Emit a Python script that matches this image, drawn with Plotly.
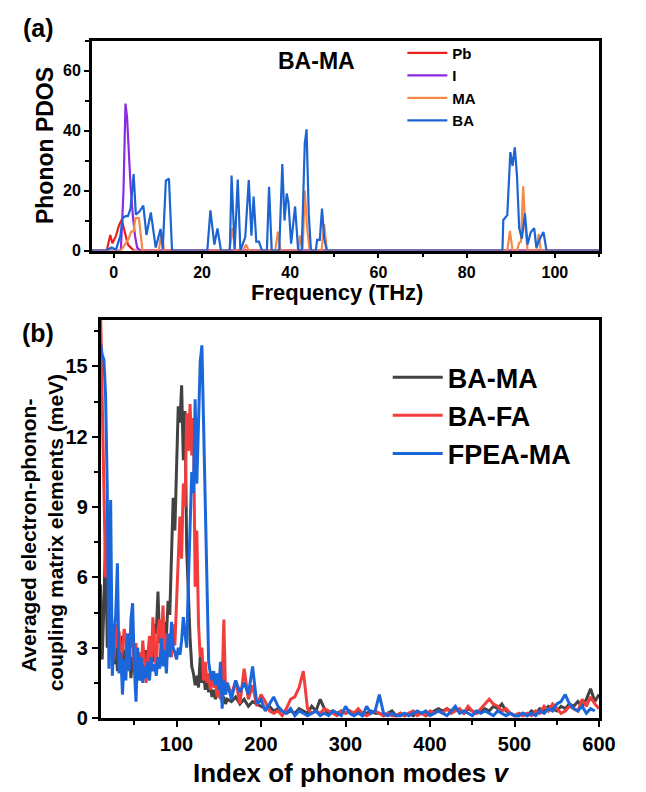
import plotly.graph_objects as go

W, H = 646, 792

# ---------------- panel (a): phonon PDOS of BA-MA ----------------
pb_x = [-5, -1.6, -0.8, -0.3, 0.5, 1.2, 1.8, 2.5, 3.2, 4.5, 110]
pb_y = [0, 0, 5.2, 2.4, 5.0, 8.5, 10.3, 6.0, 2.0, 0, 0]

i_x = [-5, 1.6, 2.2, 2.65, 3.0, 3.5, 3.8, 4.3, 4.8, 5.3, 6.0, 110]
i_y = [0, 0, 20, 49, 44.6, 30, 21.6, 12, 5, 1, 0, 0]

ma_x = [-5, 1.6, 2.5, 3.4, 3.9, 4.5, 4.9, 5.7, 6.5, 10.2, 10.8, 11.4,
        26.2, 26.9, 27.5, 29.3, 30.0, 30.6, 36.6, 37.2, 37.8, 41.8, 42.2,
        42.8, 43.3, 43.8, 44.4, 47.1, 47.7, 48.3, 89.2, 89.8, 90.4, 91.4,
        91.9, 92.3, 92.8, 93.3, 93.8, 95.8, 96.3, 96.8, 110]
ma_y = [0, 0, 2.0, 4.0, 6.2, 6.5, 10.8, 10.8, 0, 0, 5.9, 0,
        0, 7.5, 0, 0, 2.0, 0, 0, 6.3, 0, 0, 5.0,
        0, 20.0, 8.0, 0, 0, 8.8, 0, 0, 6.6, 0, 0,
        2.6, 3.0, 21.4, 8.0, 0, 0, 5.6, 0, 0]

ba_x = [-5, -1.8, -0.5, 0.5, 1.5, 2.0, 2.65, 3.2, 3.8, 4.5, 5.0, 5.8, 6.7,
        7.4, 8.4, 9.5, 10.6, 11.1, 11.8, 12.5, 13.2, 21.2, 21.9, 22.8,
        23.5, 24.3, 26.3, 26.7, 27.4, 28.1, 28.7, 29.8, 30.6, 31.2, 31.7,
        32.3, 32.9, 33.6, 34.7, 35.2, 35.8, 37.5, 38.2, 38.7, 39.2, 39.6,
        40.2, 41.1, 41.8, 42.6, 43.3, 43.7, 44.2, 44.7, 45.8, 46.1, 46.7,
        47.2, 47.7, 48.3, 88.1, 88.3, 89.2, 89.9, 90.4, 90.9, 91.4, 91.9,
        92.5, 93.2, 93.8, 94.5, 95.3, 95.8, 96.6, 97.4, 98.1, 110]
ba_y = [0, 0, 1.0, 0.3, 5.0, 10.8, 11.5, 11.5, 14.0, 25.5, 12.0, 13.0, 15.0,
        5.2, 12.7, 1.0, 7.2, 0.5, 23.3, 24.0, 0, 0, 13.4, 2.0,
        7.4, 0, 0, 25.0, 0.5, 23.7, 0, 4.5, 23.5, 5.0, 18.0,
        3.0, 3.0, 0, 0, 21.3, 0, 0, 28.8, 10.0, 19.0, 16.0,
        2.3, 14.7, 0, 0, 35.8, 40.4, 12.0, 0, 0, 3.6, 3.6,
        14.0, 4.0, 0, 0, 10.2, 11.8, 32.8, 28.2, 34.4, 25.0, 7.5,
        4.0, 12.4, 2.0, 6.0, 7.5, 1.0, 4.0, 6.2, 0, 0]

# ---------------- panel (b): averaged e-ph coupling ----------------
mode_idx = list(range(10, 161, 2)) + list(range(165, 601, 5))

ba_ma = [5.7, 2.5, 4.8, 7.7, 3.0, 4.6, 2.8, 4.0, 2.3, 3.6, 2.0, 3.1, 2.5,
         3.5, 1.8, 2.9, 2.2, 3.3, 1.7, 2.6, 2.0, 3.0, 1.9, 2.4, 1.6, 2.7,
         2.1, 2.9, 1.8, 2.5, 3.2, 2.4, 4.0, 3.6, 5.4, 3.2, 3.9, 2.8, 4.1,
         3.5, 5.0, 4.4, 6.6, 9.4, 8.0, 11.3, 13.3, 12.6, 14.2, 11.0, 13.1,
         7.2, 5.0, 3.4, 2.2, 1.9, 1.4, 1.8, 1.3, 2.6, 1.5, 1.9, 1.2, 1.7,
         1.1, 1.4, 0.9, 1.2, 0.8, 1.1, 0.9, 1.2, 0.7, 0.9, 0.6, 0.8,
         0.7, 0.9, 0.6, 0.8, 0.5, 0.7, 0.6, 0.5, 0.4, 0.5, 0.3, 0.4, 0.3,
         0.2, 0.3, 0.2, 0.4, 0.3, 0.2, 0.5, 0.3, 0.8, 0.4, 0.2, 0.3, 0.2,
         0.3, 0.2, 0.3, 0.2, 0.3, 0.1, 0.2, 0.3, 0.2, 0.2, 0.1, 0.2, 0.3,
         0.1, 0.2, 0.1, 0.2, 0.1, 0.2, 0.2, 0.1, 0.2, 0.3, 0.4, 0.3, 0.4,
         0.3, 0.4, 0.3, 0.2, 0.4, 0.3, 0.2, 0.3, 0.4, 0.3, 0.5, 0.4, 0.6,
         0.3, 0.2, 0.1, 0.1, 0.2, 0.1, 0.3, 0.2, 0.4, 0.3, 0.5, 0.4, 0.3,
         0.5, 0.4, 0.6, 0.5, 0.7, 0.5, 0.8, 1.25, 0.7, 1.0]

ba_fa = [17.5, 14.0, 9.0, 6.0, 8.4, 4.5, 3.2, 3.9, 2.5, 4.0, 3.0, 3.7, 2.4,
         2.9, 3.8, 3.4, 2.2, 3.6, 3.0, 3.5, 2.0, 3.2, 1.6, 2.8, 1.9, 3.3,
         2.4, 1.5, 2.7, 3.5, 2.2, 4.3, 3.0, 2.0, 3.8, 4.2, 3.1, 4.8, 2.3,
         3.6, 2.9, 3.4, 2.6, 4.0, 3.1, 5.0, 6.1, 8.6, 6.8, 10.0, 9.0, 13.0,
         11.4, 13.4, 11.2, 12.8, 5.6, 8.0, 4.0, 2.6, 3.0, 1.6, 2.4, 1.5,
         1.9, 1.2, 2.0, 1.3, 1.6, 0.9, 1.2, 0.8, 1.5, 4.2, 1.0, 1.5,
         1.0, 1.6, 0.6, 2.1, 0.8, 1.4, 0.5, 1.0, 0.7, 0.3, 0.2, 0.3, 0.1,
         0.4, 0.8, 0.9, 1.3, 2.0, 0.4, 0.2, 0.3, 0.2, 0.4, 0.3, 0.2, 0.1,
         0.3, 0.2, 0.3, 0.2, 0.4, 0.2, 0.1, 0.2, 0.3, 0.2, 0.1, 0.2, 0.1,
         0.1, 0.2, 0.1, 0.2, 0.3, 0.1, 0.2, 0.1, 0.3, 0.2, 0.3, 0.2, 0.4,
         0.2, 0.3, 0.4, 0.2, 0.5, 0.3, 0.2, 0.4, 0.6, 0.8, 0.6, 0.5, 0.3,
         0.4, 0.2, 0.1, 0.2, 0.1, 0.2, 0.1, 0.3, 0.2, 0.5, 0.3, 0.6, 0.4,
         0.2, 0.3, 0.5, 0.4, 0.3, 0.8, 0.5, 0.9, 0.6, 0.4]

fpea_ma = [16.0, 15.5, 15.3, 13.8, 9.8, 2.1, 9.3, 1.8, 3.5, 4.4, 6.6, 1.9,
           2.8, 1.0, 2.5, 1.6, 3.6, 2.0, 4.2, 4.9, 2.2, 0.7, 3.0, 1.6,
           2.6, 1.5, 2.2, 1.7, 2.4, 1.6, 2.6, 2.0, 2.3, 1.8, 2.6, 2.1,
           3.4, 2.2, 2.9, 1.9, 3.6, 2.6, 4.1, 3.0, 2.8, 2.5, 3.0, 2.7,
           3.3, 4.3, 3.6, 3.0, 5.8, 8.5, 10.5, 9.6, 13.6, 10.0, 12.4,
           15.2, 15.9, 12.6, 9.5, 5.4, 2.4, 1.9, 1.6, 2.0, 1.4, 1.9, 1.2,
           2.4, 0.4, 1.6, 1.0,
           1.5, 0.8, 1.6, 1.1, 1.5, 1.0, 2.2, 0.6, 0.8, 0.3, 0.6, 0.9,
           0.5, 0.3, 0.2, 0.4, 0.1, 0.3, 0.2, 0.1, 0.2, 0.3, 0.1, 0.2,
           0.1, 0.3, 0.2, 0.1, 0.5, 0.2, 0.1, 0.2, 0.1, 0.5, 0.2, 0.3,
           1.0, 0.2, 0.1, 0.2, 0.1, 0.1, 0.2, 0.1, 0.2, 0.3, 0.2, 0.3,
           0.1, 0.2, 0.3, 0.2, 0.1, 0.3, 0.5, 0.2, 0.3, 0.2, 0.1, 0.3,
           0.2, 0.3, 0.2, 0.1, 0.3, 0.2, 0.1, 0.2, 0.1, 0.1, 0.2, 0.1,
           0.2, 0.1, 0.3, 0.2, 0.4, 0.3, 0.6, 0.7, 1.0, 0.6, 0.4, 0.3,
           0.5, 0.2, 0.4, 0.3]

FONT = "Liberation Sans, Arial, sans-serif"


def px_x(p):
    return p / W


def px_y(p):
    return 1 - p / H


fig = go.Figure()

pdos = [("Pb", pb_x, pb_y, "#e8231f"), ("I", i_x, i_y, "#8b2be2"),
        ("MA", ma_x, ma_y, "#f5894a"), ("BA", ba_x, ba_y, "#1b64d1")]
for name, xs, ys, col in pdos:
    fig.add_trace(go.Scatter(x=xs, y=ys, mode="lines", name=name,
                             line=dict(color=col, width=2.2),
                             xaxis="x", yaxis="y", legend="legend"))

coupling = [("BA-MA", ba_ma, "#424242"), ("BA-FA", ba_fa, "#f23d3d"),
            ("FPEA-MA", fpea_ma, "#1b66da")]
for name, ys, col in coupling:
    fig.add_trace(go.Scatter(x=mode_idx, y=ys, mode="lines", name=name,
                             line=dict(color=col, width=3),
                             xaxis="x2", yaxis="y2", legend="legend2"))

minor_ticks = dict(ticks="outside", ticklen=4, tickcolor="black", tickwidth=2)
axis_common = dict(showline=True, linecolor="black", linewidth=2.5, mirror=True,
                   ticks="outside", tickcolor="black", tickwidth=2,
                   showgrid=False, zeroline=False)
font_a = dict(family=FONT, size=16, color="black", weight="bold")
font_b = dict(family=FONT, size=20, color="black", weight="bold")

fig.update_layout(
    width=W, height=H,
    margin=dict(l=0, r=0, t=0, b=0),
    paper_bgcolor="white", plot_bgcolor="white",
    xaxis=dict(domain=[px_x(86), px_x(607)], anchor="y", range=[-5, 110],
               dtick=20, ticklen=5, minor=dict(dtick=10, **minor_ticks),
               tickfont=font_a, **axis_common),
    yaxis=dict(domain=[px_y(246), px_y(33)], anchor="x", range=[0, 70],
               dtick=20, ticklen=5, minor=dict(dtick=10, **minor_ticks),
               tickfont=font_a, **axis_common),
    xaxis2=dict(domain=[px_x(95), px_x(607)], anchor="y2", range=[10, 600],
                tickvals=[100, 200, 300, 400, 500, 600], ticklen=6,
                minor=dict(tickvals=[50, 150, 250, 350, 450, 550], **minor_ticks),
                tickfont=font_b, **axis_common),
    yaxis2=dict(domain=[px_y(720), px_y(316)], anchor="x2", range=[0, 17],
                dtick=3, ticklen=6, minor=dict(dtick=1.5, **minor_ticks),
                tickfont=font_b, **axis_common),
    legend=dict(x=px_x(405), y=px_y(29), xanchor="left", yanchor="top",
                bgcolor="rgba(0,0,0,0)", tracegroupgap=0, itemwidth=40,
                font=dict(family=FONT, size=15, color="black", weight="bold")),
    legend2=dict(x=px_x(390), y=px_y(350), xanchor="left", yanchor="top",
                 bgcolor="rgba(0,0,0,0)", tracegroupgap=0, itemwidth=50,
                 font=dict(family=FONT, size=27, color="black", weight="bold")),
)

annos = [
    dict(text="(a)", x=px_x(31), y=px_y(20), size=25),
    dict(text="(b)", x=px_x(31), y=px_y(330), size=25),
    dict(text="BA-MA", x=px_x(317), y=px_y(54), size=23),
    dict(text="Frequency (THz)", x=px_x(338), y=px_y(289), size=22),
    dict(text="Phonon PDOS", x=px_x(38), y=px_y(140), size=23, textangle=-90),
    dict(text="Index of phonon modes <i>v</i>", x=px_x(352), y=px_y(776), size=26),
    dict(text="Averaged electron-phonon-", x=px_x(21), y=px_y(535), size=21,
         textangle=-90),
    dict(text="coupling matrix elements (meV)", x=px_x(49), y=px_y(532), size=21,
         textangle=-90),
]
for a in annos:
    fig.add_annotation(text=a["text"], x=a["x"], y=a["y"], xref="paper", yref="paper",
                       showarrow=False, textangle=a.get("textangle", 0),
                       xanchor="center", yanchor="middle",
                       font=dict(family=FONT, size=a["size"], color="black",
                                 weight="bold"))

fig.write_html("out.html")
